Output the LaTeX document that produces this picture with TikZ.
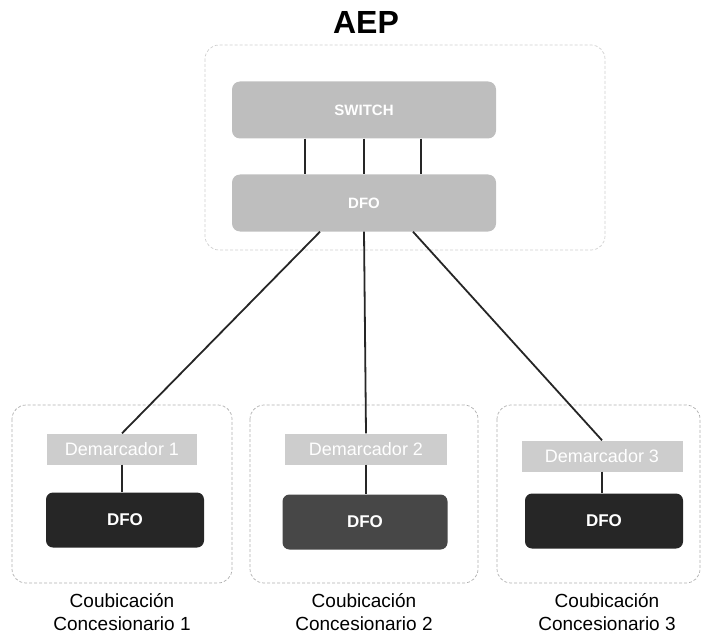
\documentclass[tikz,border=0pt]{standalone}
\usepackage{fontspec}
\setmainfont{Liberation Sans}
\usepackage{tikz}
\usetikzlibrary{positioning}
\definecolor{boxgray}{RGB}{190,190,190}
\definecolor{demgray}{RGB}{205,205,205}
\definecolor{framegray}{RGB}{175,175,175}
\tikzstyle{zone} = [draw=framegray, densely dashed, rounded corners=14pt, line width=0.7pt]
\tikzstyle{topbox} = [rectangle, rounded corners=8pt, fill=boxgray, text=white, font=\bfseries\fontsize{15}{17}\selectfont, minimum width=264pt, minimum height=57pt]
\tikzstyle{dem} = [rectangle, fill=demgray, text=white, font=\fontsize{18}{20}\selectfont, minimum height=31pt, inner sep=1pt]
\tikzstyle{dfo} = [rectangle, rounded corners=7pt, fill=black!85, text=white, font=\bfseries\fontsize{17}{19}\selectfont, minimum width=158pt, minimum height=55pt]
\tikzstyle{caption} = [align=center, font=\fontsize{19}{23}\selectfont]
\tikzstyle{link} = [line width=1.8pt, black!85]

\begin{document}
\begin{tikzpicture}[x=1pt,y=-1pt]
	\useasboundingbox (0,0) rectangle (706,639);
	\node[font=\bfseries\fontsize{32}{36}\selectfont] (aep) at (366,22) {AEP};
	% zonas
	\draw[zone, draw=framegray!60] (205,45) rectangle (605,250);
	\draw[zone] (12,405) rectangle (232,583);
	\draw[zone] (250,405) rectangle (478,583);
	\draw[zone] (497,405) rectangle (700,583);
	% AEP
	\node[topbox] (sw) at (364,110) {SWITCH};
	\node[topbox] (dfo) at (364,203) {DFO};
	\draw[link] ([xshift=-59pt]sw.south) -- ([xshift=-59pt]dfo.north);
	\draw[link] (sw.south) -- (dfo.north);
	\draw[link] ([xshift=57pt]sw.south) -- ([xshift=57pt]dfo.north);
	% coubicaciones
	\node[dem, minimum width=150pt] (dem1) at (122,449) {Demarcador 1};
	\node[dem, minimum width=162pt] (dem2) at (366,449) {Demarcador 2};
	\node[dem, minimum width=161pt] (dem3) at (602,456) {Demarcador 3};
	\node[dfo] (dfo1) at (125,520) {DFO};
	\node[dfo, minimum width=165pt, fill=black!72] (dfo2) at (365,522) {DFO};
	\node[dfo] (dfo3) at (604,521) {DFO};
	\draw[link] ([xshift=-44pt]dfo.south) -- (dem1.north);
	\draw[link] (dfo.south) -- (dem2.north);
	\draw[link] ([xshift=49pt]dfo.south) -- (dem3.north);
	\draw[link] (dem1.south) -- (dem1.south|-dfo1.north);
	\draw[link] (dem2.south) -- (dem2.south|-dfo2.north);
	\draw[link] (dem3.south) -- (dem3.south|-dfo3.north);
	\node[caption] (c1) at (122,612) {Coubicación\\Concesionario 1};
	\node[caption] (c2) at (364,612) {Coubicación\\Concesionario 2};
	\node[caption] (c3) at (607,612) {Coubicación\\Concesionario 3};
\end{tikzpicture}
\end{document}
